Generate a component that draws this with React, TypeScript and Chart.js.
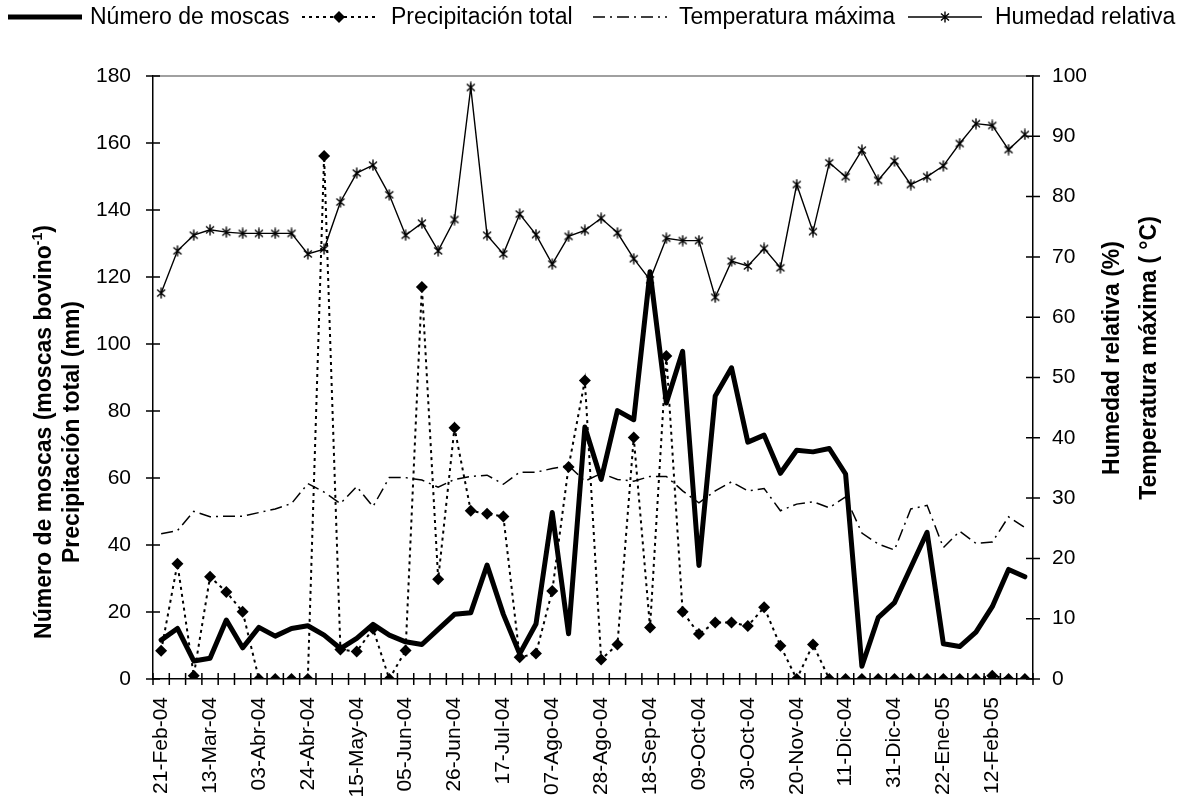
import React, { useEffect, useRef } from 'react';
import { Chart, registerables } from 'chart.js';

Chart.register(...registerables);

const fechas = [
  '21-Feb-04', '28-Feb-04', '06-Mar-04', '13-Mar-04', '20-Mar-04', '27-Mar-04',
  '03-Abr-04', '10-Abr-04', '17-Abr-04', '24-Abr-04', '01-May-04', '08-May-04',
  '15-May-04', '22-May-04', '29-May-04', '05-Jun-04', '12-Jun-04', '19-Jun-04',
  '26-Jun-04', '03-Jul-04', '10-Jul-04', '17-Jul-04', '24-Jul-04', '31-Jul-04',
  '07-Ago-04', '14-Ago-04', '21-Ago-04', '28-Ago-04', '04-Sep-04', '11-Sep-04',
  '18-Sep-04', '25-Sep-04', '02-Oct-04', '09-Oct-04', '16-Oct-04', '23-Oct-04',
  '30-Oct-04', '06-Nov-04', '13-Nov-04', '20-Nov-04', '27-Nov-04', '04-Dic-04',
  '11-Dic-04', '18-Dic-04', '24-Dic-04', '31-Dic-04', '08-Ene-05', '15-Ene-05',
  '22-Ene-05', '29-Ene-05', '05-Feb-05', '12-Feb-05', '19-Feb-05', '26-Feb-05',
];

const moscas = [
  11.6, 15.1, 5.4, 6.2, 17.6, 9.3, 15.4, 12.8, 15.1, 15.9,
  13.1, 9.1, 12.1, 16.3, 13.1, 11.1, 10.3, 14.8, 19.3, 19.8,
  34.0, 19.3, 7.5, 16.4, 49.7, 13.5, 75.2, 59.6, 80.1, 77.4,
  121.6, 82.4, 97.8, 33.9, 84.5, 92.9, 70.7, 72.8, 61.4, 68.3,
  67.8, 68.8, 61.2, 3.8, 18.3, 22.8, 33.3, 43.8, 10.5, 9.7,
  14.0, 21.6, 32.7, 30.5,
];

const precipitacion = [
  8.4, 34.4, 1.0, 30.5, 26.0, 20.1, 0, 0, 0, 0,
  156.1, 8.8, 8.2, 15.0, 0, 8.5, 117.0, 29.8, 75.0, 50.2,
  49.3, 48.5, 6.5, 7.6, 26.3, 63.3, 89.1, 5.8, 10.3, 72.1,
  15.4, 96.4, 20.1, 13.4, 16.9, 16.9, 15.8, 21.4, 9.9, 0,
  10.3, 0, 0, 0, 0, 0, 0, 0, 0, 0,
  0, 1.0, 0, 0,
];

const temperatura = [
  24.1, 24.6, 27.8, 26.9, 27.0, 27.0, 27.6, 28.2, 29.1, 32.4,
  31.0, 29.1, 31.9, 28.6, 33.4, 33.4, 33.0, 31.8, 33.1, 33.6,
  33.8, 32.3, 34.3, 34.3, 34.9, 35.4, 32.8, 34.1, 33.1, 32.8,
  33.6, 33.6, 31.2, 29.2, 31.2, 32.7, 31.2, 31.6, 27.9, 29.0,
  29.4, 28.4, 30.2, 24.2, 22.4, 21.4, 28.2, 28.8, 21.8, 24.5,
  22.5, 22.7, 26.9, 25.1,
];

const humedad = [
  64.0, 71.0, 73.6, 74.5, 74.1, 73.9, 73.9, 73.9, 73.9, 70.5,
  71.3, 79.1, 83.9, 85.2, 80.3, 73.6, 75.6, 71.0, 76.2, 98.1,
  73.6, 70.5, 77.1, 73.7, 68.8, 73.4, 74.4, 76.4, 74.0, 69.7,
  66.2, 73.1, 72.7, 72.7, 63.3, 69.3, 68.5, 71.4, 68.2, 82.0,
  74.2, 85.6, 83.3, 87.7, 82.7, 85.9, 82.0, 83.3, 85.1, 88.8,
  92.1, 91.8, 87.8, 90.3,
];

const serieNombres = ['Número de moscas', 'Precipitación total', 'Temperatura máxima', 'Humedad relativa'];
const tituloIzq = ['Número de moscas (moscas bovino', '-1', ')'];
const tituloIzq2 = 'Precipitación total (mm)';
const tituloDer = ['Humedad relativa (%)', 'Temperatura máxima ( °C)'];

const FONT = "'Liberation Sans', Arial, Helvetica, sans-serif";
const W = 1181;
const H = 802;

function makeAsterisk(): HTMLCanvasElement {
  const c = document.createElement('canvas');
  c.width = 12;
  c.height = 12;
  const g = c.getContext('2d')!;
  g.strokeStyle = '#000';
  g.lineWidth = 1.4;
  g.beginPath();
  g.moveTo(2, 2.5); g.lineTo(10, 9.5);
  g.moveTo(10, 2.5); g.lineTo(2, 9.5);
  g.moveTo(6, 0.5); g.lineTo(6, 11.5);
  g.stroke();
  return c;
}

export default function App() {
  const ref = useRef<HTMLCanvasElement | null>(null);

  useEffect(() => {
    document.body.style.margin = '0';
    const canvas = ref.current!;
    const asterisk = makeAsterisk();

    const decor = {
      id: 'decor',
      beforeDatasetsDraw(chart: any) {
        const { ctx, chartArea: a, scales } = chart;
        ctx.save();
        ctx.strokeStyle = '#808080';
        ctx.lineWidth = 1.5;
        ctx.beginPath();
        ctx.moveTo(a.left, a.top);
        ctx.lineTo(a.right, a.top);
        ctx.stroke();

        ctx.strokeStyle = '#000';
        ctx.lineWidth = 1.5;
        ctx.beginPath();
        const xs = scales.x;
        const n = fechas.length;
        const step = xs.getPixelForValue(1) - xs.getPixelForValue(0);
        for (let i = 0; i <= n; i++) {
          const px = xs.getPixelForValue(0) - step / 2 + i * step;
          ctx.moveTo(px, a.bottom - 6);
          ctx.lineTo(px, a.bottom + 6);
        }
        scales.y.ticks.forEach((t: any) => {
          const py = scales.y.getPixelForValue(t.value);
          ctx.moveTo(a.left - 7, py);
          ctx.lineTo(a.left + 7, py);
        });
        scales.y1.ticks.forEach((t: any) => {
          const py = scales.y1.getPixelForValue(t.value);
          ctx.moveTo(a.right - 7, py);
          ctx.lineTo(a.right + 7, py);
        });
        ctx.stroke();
        ctx.restore();
      },
      afterDraw(chart: any) {
        const { ctx } = chart;
        ctx.save();
        ctx.fillStyle = '#000';
        ctx.strokeStyle = '#000';
        // Legend
        const ly = 17;
        const starts = [8, 302, 593, 908];
        const len = 74;
        const textX = [90, 391, 679, 995];
        // 1 thick line
        ctx.setLineDash([]);
        ctx.lineWidth = 5;
        ctx.beginPath(); ctx.moveTo(starts[0], ly); ctx.lineTo(starts[0] + len, ly); ctx.stroke();
        // 2 dotted + diamond
        ctx.lineWidth = 2;
        ctx.setLineDash([3, 4]);
        ctx.beginPath(); ctx.moveTo(starts[1], ly); ctx.lineTo(starts[1] + len, ly); ctx.stroke();
        ctx.setLineDash([]);
        const dc = starts[1] + len / 2;
        ctx.beginPath();
        ctx.moveTo(dc - 6, ly); ctx.lineTo(dc, ly - 6); ctx.lineTo(dc + 6, ly); ctx.lineTo(dc, ly + 6);
        ctx.closePath(); ctx.fill();
        // 3 dash-dot
        ctx.lineWidth = 1.5;
        ctx.setLineDash([12, 5, 2, 5]);
        ctx.beginPath(); ctx.moveTo(starts[2], ly); ctx.lineTo(starts[2] + len, ly); ctx.stroke();
        ctx.setLineDash([]);
        // 4 line + asterisk
        ctx.lineWidth = 1.5;
        ctx.beginPath(); ctx.moveTo(starts[3], ly); ctx.lineTo(starts[3] + len, ly); ctx.stroke();
        ctx.drawImage(asterisk, starts[3] + len / 2 - 6, ly - 6);

        ctx.font = `23px ${FONT}`;
        ctx.textBaseline = 'middle';
        ctx.textAlign = 'left';
        serieNombres.forEach((s, i) => ctx.fillText(s, textX[i], ly + 1));

        // Left axis title (rotated)
        const big = `bold 23px ${FONT}`;
        const small = `bold 14px ${FONT}`;
        ctx.save();
        ctx.translate(45, 432);
        ctx.rotate(-Math.PI / 2);
        ctx.font = big;
        const w1 = ctx.measureText(tituloIzq[0]).width;
        const w3 = ctx.measureText(tituloIzq[2]).width;
        ctx.font = small;
        const w2 = ctx.measureText(tituloIzq[1]).width;
        const total = w1 + w2 + w3;
        let x0 = -total / 2;
        ctx.textAlign = 'left';
        ctx.font = big;
        ctx.fillText(tituloIzq[0], x0, 0);
        ctx.font = small;
        ctx.fillText(tituloIzq[1], x0 + w1, -7);
        ctx.font = big;
        ctx.fillText(tituloIzq[2], x0 + w1 + w2, 0);
        ctx.restore();

        ctx.save();
        ctx.translate(73, 432);
        ctx.rotate(-Math.PI / 2);
        ctx.font = big;
        ctx.textAlign = 'center';
        ctx.fillText(tituloIzq2, 0, 0);
        ctx.restore();

        // Right axis title
        [1113, 1150].forEach((cx, i) => {
          ctx.save();
          ctx.translate(cx, 358);
          ctx.rotate(-Math.PI / 2);
          ctx.font = big;
          ctx.textAlign = 'center';
          ctx.textBaseline = 'middle';
          ctx.fillText(tituloDer[i], 0, 0);
          ctx.restore();
        });
        ctx.restore();
      },
    };

    const chart = new Chart(canvas, {
      type: 'line',
      data: {
        labels: fechas,
        datasets: [
          {
            label: serieNombres[0],
            data: moscas,
            yAxisID: 'y',
            borderColor: '#000',
            backgroundColor: '#000',
            borderWidth: 5,
            pointRadius: 0,
            borderJoinStyle: 'round',
            borderCapStyle: 'round',
            tension: 0,
            fill: false,
          },
          {
            label: serieNombres[1],
            data: precipitacion,
            yAxisID: 'y',
            borderColor: '#000',
            backgroundColor: '#000',
            borderWidth: 2,
            borderDash: [3, 4],
            pointStyle: 'rectRot',
            pointRadius: 6,
            pointBackgroundColor: '#000',
            pointBorderColor: '#000',
            pointBorderWidth: 0,
            tension: 0,
            fill: false,
          },
          {
            label: serieNombres[2],
            data: temperatura,
            yAxisID: 'y1',
            borderColor: '#000',
            backgroundColor: '#000',
            borderWidth: 1.5,
            borderDash: [12, 5, 2, 5],
            pointRadius: 0,
            tension: 0,
            fill: false,
          },
          {
            label: serieNombres[3],
            data: humedad,
            yAxisID: 'y1',
            borderColor: '#000',
            backgroundColor: '#000',
            borderWidth: 1.4,
            pointStyle: asterisk as any,
            pointRadius: 6,
            tension: 0,
            fill: false,
          },
        ],
      },
      options: {
        responsive: false,
        animation: false,
        devicePixelRatio: 1,
        layout: { padding: { top: 76, left: 0, right: 0, bottom: 0 } },
        plugins: {
          legend: { display: false },
          tooltip: { enabled: false },
        },
        scales: {
          x: {
            type: 'category',
            offset: true,
            grid: { display: false, drawTicks: false },
            border: { display: true, color: '#000', width: 1.5 },
            ticks: {
              autoSkip: false,
              minRotation: 90,
              maxRotation: 90,
              padding: 18,
              color: '#000',
              font: { family: FONT, size: 21 },
              callback: function (this: any, value: any, index: number) {
                return index % 3 === 0 ? fechas[index] : '';
              },
            },
            afterFit: (s: any) => { s.height = 123; },
          },
          y: {
            position: 'left',
            min: 0,
            max: 180,
            grid: { display: false, drawTicks: false },
            border: { display: true, color: '#000', width: 1.5 },
            ticks: {
              stepSize: 20,
              padding: 22,
              color: '#000',
              font: { family: FONT, size: 21 },
            },
            afterFit: (s: any) => { s.width = 153; },
          },
          y1: {
            position: 'right',
            min: 0,
            max: 100,
            grid: { display: false, drawTicks: false },
            border: { display: true, color: '#000', width: 1.5 },
            ticks: {
              stepSize: 10,
              padding: 19,
              color: '#000',
              font: { family: FONT, size: 21 },
            },
            afterFit: (s: any) => { s.width = 148; },
          },
        },
      },
      plugins: [decor],
    } as any);

    return () => chart.destroy();
  }, []);

  return (
    <div style={{ width: W, height: H, background: '#fff' }}>
      <canvas ref={ref} width={W} height={H} style={{ display: 'block' }} />
    </div>
  );
}
